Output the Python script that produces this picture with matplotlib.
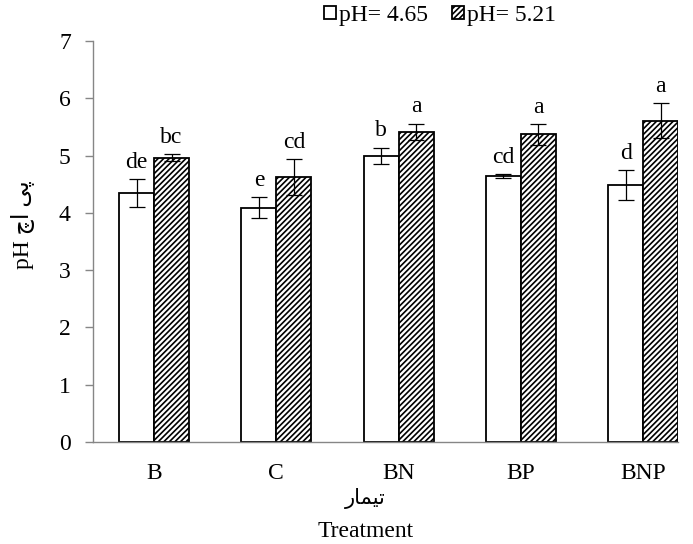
import matplotlib
matplotlib.use("Agg")
import matplotlib.pyplot as plt
import numpy as np

plt.rcParams["font.family"] = ["Liberation Serif", "DejaVu Sans"]
plt.rcParams["hatch.linewidth"] = 1.2

# ===== データ =====
treatments = ["B", "C", "BN", "BP", "BNP"]
ph_low = [4.35, 4.09, 5.00, 4.64, 4.49]
ph_low_err = [0.24, 0.18, 0.14, 0.04, 0.26]
ph_high = [4.96, 4.63, 5.42, 5.37, 5.61]
ph_high_err = [0.06, 0.31, 0.14, 0.18, 0.30]
letters_low = ["de", "e", "b", "cd", "d"]
letters_high = ["bc", "cd", "a", "a", "a"]
series_labels = ["pH= 4.65", "pH= 5.21"]

# Persian text written in visual (left-to-right) order with presentation forms
ylabel_fa = "\ufb7a\ufe8d \ufbfd\ufb58"          # پی اچ
xlabel_fa = "\ufead\ufe8e\ufee4\ufbff\ufe97"     # تیمار

fig = plt.figure(figsize=(6.93, 5.44), dpi=100)
ax = fig.add_axes([0.1342, 0.1875, 0.8442, 0.7371])

x = np.arange(len(treatments))
w = 0.286
axis_gray = "#868686"

bars1 = ax.bar(x - w / 2, ph_low, w, color="white", edgecolor="black",
               linewidth=1.3, label=series_labels[0], zorder=2)
bars2 = ax.bar(x + w / 2, ph_high, w, color="white", edgecolor="black",
               linewidth=1.3, hatch="//////", label=series_labels[1], zorder=2)

ax.errorbar(x - w / 2, ph_low, yerr=ph_low_err, fmt="none", ecolor="black",
            elinewidth=0.9, capsize=6, capthick=0.9, zorder=3)
ax.errorbar(x + w / 2, ph_high, yerr=ph_high_err, fmt="none", ecolor="black",
            elinewidth=0.9, capsize=6, capthick=0.9, zorder=3)

# 有意差の文字
for xi, m, e, t in zip(x - w / 2, ph_low, ph_low_err, letters_low):
    ax.annotate(t, (xi, m + e), xytext=(0, 8), textcoords="offset points",
                ha="center", va="baseline", fontsize=17)
for xi, m, e, t in zip(x + w / 2, ph_high, ph_high_err, letters_high):
    ax.annotate(t, (xi, m + e), xytext=(0, 8), textcoords="offset points",
                ha="center", va="baseline", fontsize=17)

ax.set_xlim(-0.5, len(treatments) - 1 + w)
ax.set_ylim(0, 7)
ax.set_yticks(range(0, 8))
ax.set_xticks(x)
ax.set_xticklabels(treatments)
ax.tick_params(axis="y", colors=axis_gray, labelcolor="black", labelsize=17,
               length=6, width=1, pad=10)
ax.tick_params(axis="x", length=0, labelsize=17, pad=15)

for side in ["top", "right"]:
    ax.spines[side].set_visible(False)
for side in ["left", "bottom"]:
    ax.spines[side].set_color(axis_gray)
    ax.spines[side].set_linewidth(1)

fig.text(0.033, 0.587, "pH " + ylabel_fa, rotation=90, ha="center",
         va="center", fontsize=17)
fig.text(0.527, 0.083, xlabel_fa, ha="center", va="center", fontsize=15)
fig.text(0.527, 0.004, "Treatment", ha="center", va="bottom", fontsize=17)

fig.legend(handles=[bars1, bars2], loc="center", bbox_to_anchor=(0.635, 0.972),
           ncol=2, frameon=False, fontsize=17, handlelength=0.5,
           handleheight=0.5, handletextpad=0.15, columnspacing=1.0)

fig.savefig("out.png", dpi=100)
